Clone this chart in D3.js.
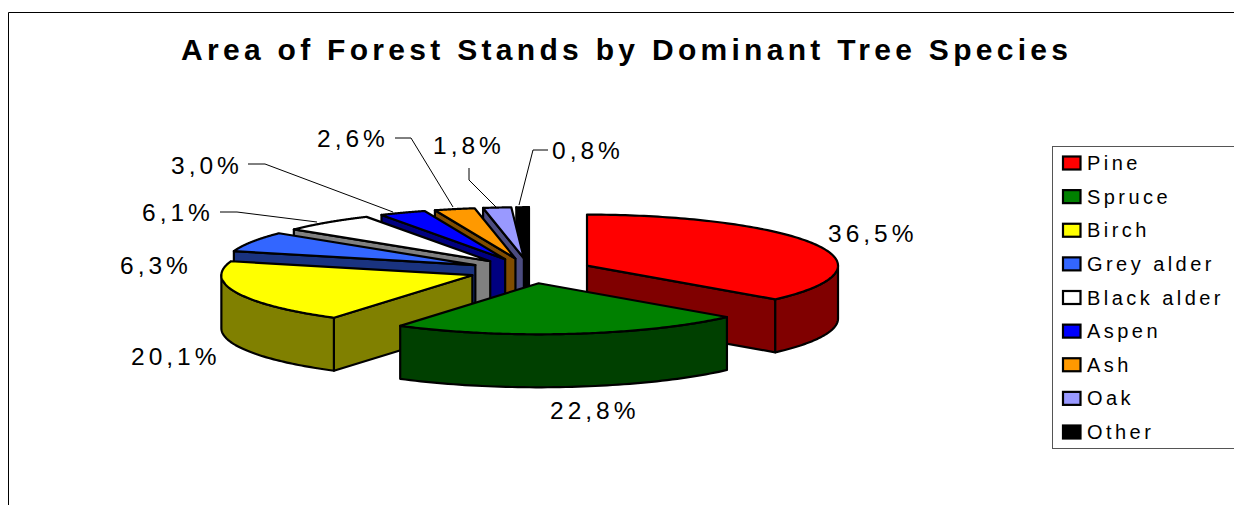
<!DOCTYPE html>
<html><head><meta charset="utf-8">
<script src="https://cdn.jsdelivr.net/npm/d3@7"></script>
<style>
html,body{margin:0;padding:0;background:#fff;overflow:hidden}
svg{display:block}
text{font-family:"Liberation Sans",Arial,sans-serif;fill:#000}
</style></head><body>
<svg id="c" width="1234" height="505"></svg>
<script>
const titleText = "Area of Forest Stands by Dominant Tree Species";
const species = ["Pine","Spruce","Birch","Grey alder","Black alder","Aspen","Ash","Oak","Other"];
const shares = [36.5,22.8,20.1,6.3,6.1,3.0,2.6,1.8,0.8];
const valueLabels = ["36,5%","22,8%","20,1%","6,3%","6,1%","3,0%","2,6%","1,8%","0,8%"];
const topColors = ["#ff0000","#008000","#ffff00","#3366ff","#ffffff","#0000ff","#ff9900","#9999ff","#000000"];
const sideColors = ["#800000","#004000","#808000","#1a3380","#808080","#000080","#804c00","#4c4c80","#000000"];
// painter's order, back to front
const drawOrder = ["Other","Oak","Ash","Aspen","Black alder","Grey alder","Pine","Birch","Spruce"];

const svg = d3.select("#c");
const TAU = 2*Math.PI;
const cx = 530.5, cy = 270.8, rx = 251, ry = 51, depth = 53, explode = 62;
const sx = d3.scaleLinear().domain([-1,1]).range([-rx,rx]);
const sy = d3.scaleLinear().domain([-1,1]).range([-ry,ry]);
const arcs = d3.pie().sort(null).value(d=>d).startAngle(0).endAngle(TAU)(shares);
const line = d3.line();

// chart frame
svg.append("path").attr("d","M8.5,505V12.5H1234").attr("fill","none").attr("stroke","#000").attr("stroke-width",1);

svg.append("text").attr("x",181).attr("y",59.5).attr("font-size",30).attr("font-weight","bold")
  .attr("letter-spacing",4.3).text(titleText);

const slices = species.map((name,i)=>{
  const a0 = arcs[i].startAngle, a1 = arcs[i].endAngle, m=(a0+a1)/2;
  const ax = cx + explode*Math.sin(m), ay = cy - explode*(ry/rx)*Math.cos(m);
  const pt = (a,d=0)=>[ax+sx(Math.sin(a)), ay-sy(Math.cos(a))+d];
  return {name,i,a0,a1,m,ax,ay,pt};
});

const gPie = svg.append("g").attr("stroke","#000").attr("stroke-width",2.2).attr("stroke-linejoin","round");
drawOrder.forEach(name=>{
  const s = slices.find(d=>d.name===name), side = sideColors[s.i], top = topColors[s.i];
  const face = a=>line([[s.ax,s.ay],s.pt(a),s.pt(a,depth),[s.ax,s.ay+depth]])+"Z";
  if (Math.sin(s.a0)<0) gPie.append("path").attr("d",face(s.a0)).attr("fill",side);
  if (Math.sin(s.a1)>0) gPie.append("path").attr("d",face(s.a1)).attr("fill",side);
  // outer rim, visible only on the near half of the ellipse
  const lo = Math.max(s.a0,Math.PI/2), hi = Math.min(s.a1,3*Math.PI/2);
  if (lo<hi){
    const as = d3.range(0,61).map(k=>lo+(hi-lo)*k/60);
    gPie.append("path").attr("d",line(as.map(a=>s.pt(a)).concat(as.slice().reverse().map(a=>s.pt(a,depth))))+"Z").attr("fill",side);
  }
  const as = d3.range(0,121).map(k=>s.a0+(s.a1-s.a0)*k/120);
  gPie.append("path").attr("d",line([[s.ax,s.ay]].concat(as.map(a=>s.pt(a))))+"Z").attr("fill",top);
});

// data labels and leader lines
const labelAt = [[828,242],[550,419],[131,365],[120,274],[142,221],[171,174],[317,147],[433,154],[552,159]];
const leaders = [null,null,null,null,
  [[220,212],[237,212],[317,222]],
  [[248,164],[265,164],[393,212]],
  [[395,138],[411,138],[453,207]],
  [[469,168],[469,180],[496,207]],
  [[548,150],[533,150],[519,205]]];
svg.append("g").selectAll("path").data(leaders.filter(Boolean)).join("path")
  .attr("d",d=>line(d)).attr("fill","none").attr("stroke","#000").attr("stroke-width",1);
svg.append("g").selectAll("text").data(valueLabels).join("text")
  .attr("x",(d,i)=>labelAt[i][0]).attr("y",(d,i)=>labelAt[i][1])
  .attr("font-size",24.5).attr("letter-spacing",4).text(d=>d);

// legend
svg.append("rect").attr("x",1052.5).attr("y",146.5).attr("width",190).attr("height",302).attr("fill","#fff").attr("stroke","#555").attr("stroke-width",1);
const rowY = d3.scalePoint().domain(species).range([163,432]);
const lg = svg.append("g").selectAll("g").data(species).join("g").attr("transform",d=>`translate(0,${rowY(d)})`);
lg.append("rect").attr("x",1063).attr("y",-6.5).attr("width",17.5).attr("height",13)
  .attr("fill",(d,i)=>topColors[i]).attr("stroke","#000").attr("stroke-width",2.2);
lg.append("text").attr("x",1087).attr("y",7).attr("font-size",20).attr("letter-spacing",3.45).text(d=>d);
</script>
</body></html>
